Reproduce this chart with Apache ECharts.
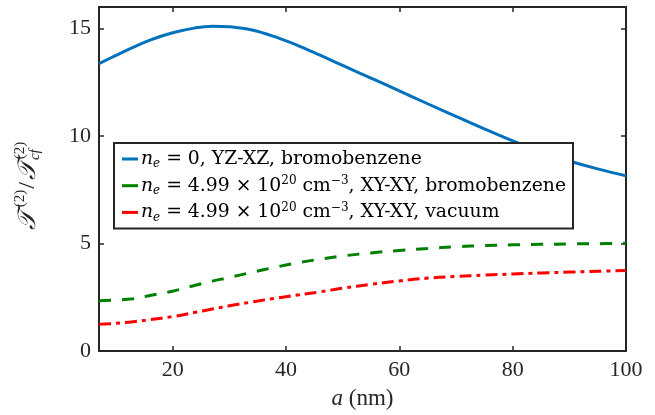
<!DOCTYPE html>
<html>
<head>
<meta charset="utf-8">
<script src="https://cdn.jsdelivr.net/npm/echarts@6/dist/echarts.min.js"></script>
<style>
html,body{margin:0;padding:0;background:#fff;}
#chart{width:655px;height:415px;}
</style>
</head>
<body>
<div id="chart"></div>
<script>
// ---- data ----
const aValues = [7,10,13,16,20,24,27,30,34,38,42,46,50,55,60,65,70,75,80,85,90,95,100];
const blueYZ = [13.37,13.75,14.12,14.46,14.8,15.03,15.11,15.08,14.93,14.62,14.22,13.76,13.28,12.69,12.1,11.5,10.91,10.33,9.77,9.27,8.84,8.47,8.15];
const greenXY = [2.34,2.37,2.43,2.58,2.78,3.06,3.25,3.42,3.66,3.89,4.1,4.27,4.42,4.56,4.68,4.77,4.85,4.9,4.94,4.96,4.98,4.99,5.01];
const redXY = [1.24,1.29,1.36,1.46,1.6,1.8,1.95,2.1,2.28,2.45,2.6,2.75,2.92,3.1,3.26,3.39,3.47,3.53,3.58,3.63,3.67,3.71,3.74];
const xTicks = [20,40,60,80,100];
const yTicks = [0,5,10,15];
const seriesNames = ['blue','green','red'];
const legendLabels = {
  blue: '{i|n}{sub|e}{t| = 0, YZ-XZ, bromobenzene}',
  green: '{i|n}{sub|e}{t| = 4.99 × 10}{sup|20}{t| cm}{sup|−3}{t|, XY-XY, bromobenzene}',
  red: '{i|n}{sub|e}{t| = 4.99 × 10}{sup|20}{t| cm}{sup|−3}{t|, XY-XY, vacuum}'
};

const serif = '"Liberation Serif"';
const lserif = '"DejaVu Serif"';
const axisColor = '#262626';

function pairs(ys){ return aValues.map((a,i)=>[a, ys[i]]); }

const chart = echarts.init(document.getElementById('chart'));
const baseX = {
  type:'value', min:7, max:100,
  axisLine:{show:true, onZero:false, lineStyle:{color:axisColor, width:2}},
  axisTick:{show:true, inside:true, length:5, customValues:xTicks, lineStyle:{color:axisColor, width:1.5}},
  splitLine:{show:false}
};
const baseY = {
  type:'value', min:0, max:16,
  axisLine:{show:true, onZero:false, lineStyle:{color:axisColor, width:2}},
  axisTick:{show:true, inside:true, length:5, customValues:yTicks, lineStyle:{color:axisColor, width:1.5}},
  splitLine:{show:false}
};

chart.setOption({
  animation:false,
  backgroundColor:'#fff',
  grid:{left:99, right:29, top:7, bottom:62, containLabel:false},
  xAxis:[
    Object.assign({}, baseX, {
      position:'bottom',
      axisLabel:{show:true, customValues:xTicks, color:axisColor, fontFamily:serif, fontSize:22, margin:8},
      name:'{i|a}{t| (nm)}', nameLocation:'middle', nameGap:36,
      nameTextStyle:{color:axisColor, rich:{
        i:{fontFamily:serif, fontStyle:'italic', fontSize:23, color:axisColor},
        t:{fontFamily:serif, fontSize:23, color:axisColor}
      }}
    }),
    Object.assign({}, baseX, {position:'top', axisLabel:{show:false}})
  ],
  yAxis:[
    Object.assign({}, baseY, {
      position:'left',
      axisLabel:{show:true, customValues:yTicks, color:axisColor, fontFamily:serif, fontSize:22, margin:8},
      name:'{T|𝒯}{sup|(2)}{t|/}{T|𝒯}{sub|cf}{sup2|(2)}', nameLocation:'middle', nameGap:56, nameRotate:90,
      nameTextStyle:{color:axisColor, padding:[0,0,0,-14], rich:{
        T:{fontFamily:'"DejaVu Serif", "DejaVu Sans", serif', fontStyle:'italic', fontSize:25, color:axisColor},
        t:{fontFamily:serif, fontSize:24, color:axisColor, padding:[0,2,0,1]},
        sup:{fontFamily:serif, fontSize:15, color:axisColor, verticalAlign:'top', lineHeight:30, padding:[0,0,0,4]},
        sup2:{fontFamily:serif, fontSize:15, color:axisColor, verticalAlign:'top', lineHeight:30, padding:[0,0,0,-10]},
        sub:{fontFamily:serif, fontStyle:'italic', fontSize:15, color:axisColor, verticalAlign:'bottom', lineHeight:30, padding:[0,0,0,1]}
      }}
    }),
    Object.assign({}, baseY, {position:'right', axisLabel:{show:false}})
  ],
  legend:{
    orient:'vertical', left:114, top:143,
    data:seriesNames,
    icon:'rect', itemWidth:16, itemHeight:3, itemGap:4.7,
    backgroundColor:'#fff', borderColor:'#262626', borderWidth:2, borderRadius:0,
    padding:[5,7,5,8],
    formatter:function(name){ return legendLabels[name]; },
    textStyle:{color:'#000', lineHeight:22, padding:[0,0,0,-2], rich:{
      i:{fontFamily:lserif, fontStyle:'italic', fontSize:18.8, color:'#000', lineHeight:22},
      t:{fontFamily:lserif, fontSize:18.8, color:'#000', lineHeight:22},
      sub:{fontFamily:lserif, fontStyle:'italic', fontSize:12, color:'#000', verticalAlign:'bottom', lineHeight:20},
      sup:{fontFamily:lserif, fontSize:12, color:'#000', verticalAlign:'top', lineHeight:22}
    }}
  },
  series:[
    {name:'blue', type:'line', data:pairs(blueYZ), smooth:0.4, showSymbol:false, symbol:'none',
     color:'#0072BD', lineStyle:{color:'#0072BD', width:3}},
    {name:'green', type:'line', data:pairs(greenXY), smooth:0.4, showSymbol:false, symbol:'none',
     color:'#008000', lineStyle:{color:'#008000', width:3, type:[12,11]}},
    {name:'red', type:'line', data:pairs(redXY), smooth:0.4, showSymbol:false, symbol:'none',
     color:'#FF0000', lineStyle:{color:'#FF0000', width:3, type:[12,5,4,5]}}
  ]
});
</script>
</body>
</html>
